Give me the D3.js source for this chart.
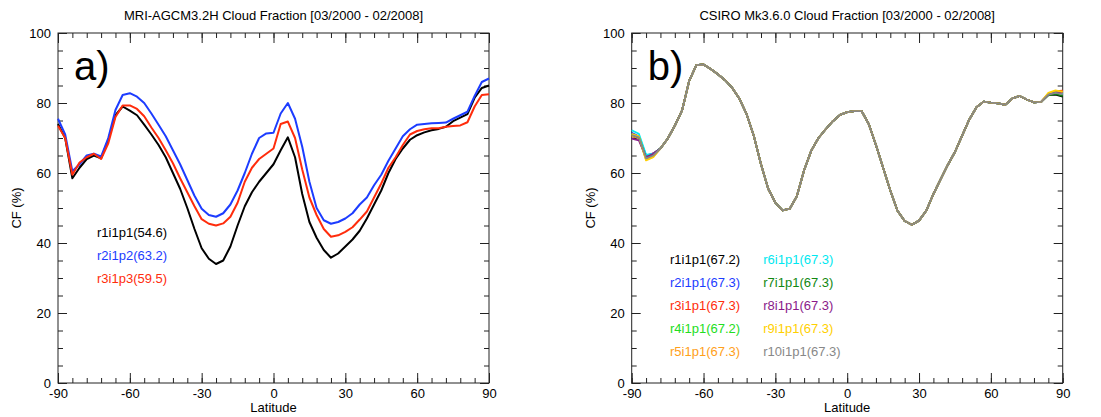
<!DOCTYPE html>
<html>
<head>
<meta charset="utf-8">
<script src="https://cdn.jsdelivr.net/npm/d3@7"></script>
<style>
  body { margin: 0; background: #fff; }
  svg text { font-family: "Liberation Sans", Arial, Helvetica, sans-serif; }
</style>
</head>
<body>
<script>
// latitude grid shared by every series
var latitudes = [-90, -87, -84, -81, -78, -75, -72, -69, -66, -63,
                 -60, -57, -54, -51, -48, -45, -42, -39, -36, -33,
                 -30, -27, -24, -21, -18, -15, -12, -9, -6, -3,
                 0, 3, 6, 9, 12, 15, 18, 21, 24, 27,
                 30, 33, 36, 39, 42, 45, 48, 51, 54, 57,
                 60, 63, 66, 69, 72, 75, 78, 81, 84, 87, 90];

var xTicks = [-90, -60, -30, 0, 30, 60, 90];
var yTicks = [0, 20, 40, 60, 80, 100];

// panel a) MRI-AGCM3.2H
var mriNames = ["r1i1p1", "r2i1p2", "r3i1p3"];
var mriMeans = [54.6, 63.2, 59.5];
var mriR1 = [74, 70, 58.5, 61.5, 64, 65, 64.2, 69.5, 76.5, 79,
             77.8, 76.5, 73.8, 71, 68, 64.5, 60, 55.5, 50, 44,
             38.5, 35.5, 34, 35, 39, 45, 50.5, 54.5, 57.5, 60,
             62.5, 66.5, 70.2, 64.5, 54, 46, 41.5, 38, 35.8, 37,
             39, 41, 43.5, 47, 51, 55, 60, 64, 67, 69.5,
             70.8, 71.6, 72.2, 72.6, 73.2, 74.8, 75.8, 76.8, 81.5, 84.3, 85];
var mriR2 = [75.5, 71, 60.5, 62.5, 65, 65.5, 64.7, 70, 78, 82.3,
             82.8, 81.8, 80, 77, 73.8, 70.5, 66.5, 62.5, 58, 53.5,
             49.8, 48, 47.5, 48.5, 51, 55, 60, 65.5, 70, 71.3,
             71.5, 77, 80, 75.5, 67.5, 57.5, 50, 46.5, 45.5, 46,
             47, 48.5, 51, 53, 56.5, 59.5, 63.5, 67, 70.5, 72.5,
             73.8, 74, 74.2, 74.3, 74.4, 75.5, 76.5, 77.5, 82, 86, 87];
var mriR3 = [73.5, 70, 59.5, 63, 64.5, 65.5, 64, 68.5, 76, 79.3,
             79.3, 78.3, 76.2, 73, 70, 66.5, 62.8, 58.5, 54.5, 50.5,
             46.8, 45.5, 45, 45.6, 47.5, 51.5, 57.5, 61.5, 64, 65.5,
             67, 74, 74.7, 70, 61, 53, 48, 44, 41.8, 42.2,
             43.2, 44.5, 46.7, 49, 53, 57, 61.5, 64.5, 68, 71,
             72, 72.5, 72.8, 72.8, 73.2, 73.4, 73.6, 74.5, 79, 82.3, 82.5];

// panel b) CSIRO Mk3.6.0, ten members
var csiroNames = ["r1i1p1", "r2i1p1", "r3i1p1", "r4i1p1", "r5i1p1",
                  "r6i1p1", "r7i1p1", "r8i1p1", "r9i1p1", "r10i1p1"];
var csiroMeans = [67.2, 67.3, 67.3, 67.2, 67.3, 67.3, 67.3, 67.3, 67.3, 67.3];
// -90..-81, where the members separate
var csiroSouth = [[70.5, 70, 64.3, 65.2],
                  [71.5, 70.5, 65, 65.6],
                  [70.8, 70.2, 64.5, 65.6],
                  [71, 70.3, 64.5, 65.3],
                  [70.5, 70, 63.8, 64.6],
                  [72.2, 71.2, 65.2, 65.5],
                  [71, 70.2, 64.3, 65.2],
                  [69.8, 69.3, 64.5, 65.5],
                  [71.2, 70.5, 63.6, 64.5],
                  [70.8, 70.2, 64.2, 65]];
// -78..81, where the members lie on top of each other
var csiroCore = [67, 69.8, 73.5, 77.8, 86.3, 90.8, 91, 89.7, 88.2, 86.5,
                 84.3, 81.2, 76.8, 70.6, 62.5, 55.5, 51.5, 49.3, 49.8, 53.4,
                 60.8, 66.4, 70, 72.5, 74.8, 76.6, 77.4, 77.7, 77.7, 74,
                 68, 61.5, 55, 49.2, 46.3, 45.2, 46.4, 49.2, 54, 58.2,
                 62.3, 66, 70.7, 75.3, 78.8, 80.4, 80.1, 79.9, 79.5, 81.3,
                 82, 81, 80.2, 80.3];
// 84..90
var csiroNorth = [[82.3, 82.4, 81.8],
                  [82.5, 83, 82.8],
                  [82.6, 83.4, 83.5],
                  [82.4, 83.1, 83],
                  [82.6, 83.2, 83.3],
                  [82.5, 83, 82.6],
                  [82.2, 82.6, 82],
                  [82.4, 83, 83.1],
                  [82.9, 83.6, 83.2],
                  [82.4, 82.9, 82.5]];

var mriColors = ["#000000", "#1c3cff", "#ff2c0c"];
var csiroColors = ["#000000", "#1c3cff", "#ff2c0c", "#22dd22", "#ffa01a",
                   "#00e8f0", "#118811", "#8a1a8a", "#ffd000", "#888888"];

var width = 1101, height = 417;
var plotTop = 33, plotW = 431, plotH = 350;

var svg = d3.select("body").append("svg")
    .attr("width", width)
    .attr("height", height);

function drawPanel(left, title, tag) {
    var g = svg.append("g").attr("transform", "translate(" + left + "," + plotTop + ")");
    var x = d3.scaleLinear().domain([-90, 90]).range([0, plotW]);
    var y = d3.scaleLinear().domain([0, 100]).range([plotH, 0]);
    var plain = function (d) { return String(d); };

    //minor ticks on all four sides
    var xMinor = d3.range(-90, 91, 6), yMinor = d3.range(0, 101, 5);
    g.append("g").attr("transform", "translate(0," + plotH + ")")
        .call(d3.axisBottom(x).tickValues(xMinor).tickSize(-5).tickSizeOuter(0).tickFormat(""));
    g.append("g")
        .call(d3.axisTop(x).tickValues(xMinor).tickSize(-5).tickSizeOuter(0).tickFormat(""));
    g.append("g")
        .call(d3.axisLeft(y).tickValues(yMinor).tickSize(-5).tickSizeOuter(0).tickFormat(""));
    g.append("g").attr("transform", "translate(" + plotW + ",0)")
        .call(d3.axisRight(y).tickValues(yMinor).tickSize(-5).tickSizeOuter(0).tickFormat(""));

    //major ticks
    g.append("g").attr("transform", "translate(0," + plotH + ")")
        .call(d3.axisBottom(x).tickValues(xTicks).tickSize(-10).tickSizeOuter(0).tickPadding(6).tickFormat(plain));
    g.append("g")
        .call(d3.axisTop(x).tickValues(xTicks).tickSize(-10).tickSizeOuter(0).tickFormat(""));
    g.append("g")
        .call(d3.axisLeft(y).tickValues(yTicks).tickSize(-9).tickSizeOuter(0).tickPadding(7).tickFormat(plain));
    g.append("g").attr("transform", "translate(" + plotW + ",0)")
        .call(d3.axisRight(y).tickValues(yTicks).tickSize(-9).tickSizeOuter(0).tickFormat(""));

    g.selectAll(".domain").remove();
    g.selectAll(".tick line").attr("stroke", "#222");
    g.selectAll(".tick text").attr("font-size", 13).attr("fill", "#000")
        .style("font-family", '"Liberation Sans", Arial, sans-serif');

    g.append("rect")
        .attr("width", plotW).attr("height", plotH)
        .attr("fill", "none").attr("stroke", "#222").attr("stroke-width", 1);

    g.append("text")
        .attr("x", plotW / 2).attr("y", 19.5 - plotTop)
        .attr("text-anchor", "middle").attr("font-size", 13)
        .text(title);
    g.append("text")
        .attr("x", plotW / 2).attr("y", plotH + 29)
        .attr("text-anchor", "middle").attr("font-size", 13)
        .text("Latitude");
    g.append("text")
        .attr("transform", "translate(-37," + plotH / 2 + ") rotate(-90)")
        .attr("text-anchor", "middle").attr("font-size", 13)
        .text("CF (%)");
    g.append("text")
        .attr("x", 16).attr("y", 80 - plotTop)
        .attr("font-size", 40)
        .text(tag);

    var line = d3.line()
        .x(function (d, i) { return x(latitudes[i]); })
        .y(function (d) { return y(d); });

    return { g: g, line: line };
}

// panel a
var pa = drawPanel(58, "MRI-AGCM3.2H Cloud Fraction [03/2000 - 02/2008]", "a)");
var mriSeries = [mriR1, mriR2, mriR3];
pa.g.selectAll(".mri")
    .data(mriSeries)
    .enter()
    .append("path")
    .attr("class", "mri")
    .attr("fill", "none")
    .attr("stroke", function (d, i) { return mriColors[i]; })
    .attr("stroke-width", 2)
    .attr("stroke-linejoin", "round")
    .attr("d", pa.line);

pa.g.selectAll(".leg")
    .data(mriNames)
    .enter()
    .append("text")
    .attr("class", "leg")
    .attr("x", 39)
    .attr("y", function (d, i) { return 237 - plotTop + i * 23; })
    .attr("font-size", 13)
    .attr("fill", function (d, i) { return mriColors[i]; })
    .text(function (d, i) { return d + "(" + mriMeans[i].toFixed(1) + ")"; });

// panel b
var pb = drawPanel(631.7, "CSIRO Mk3.6.0 Cloud Fraction [03/2000 - 02/2008]", "b)");
var csiroSeries = csiroNames.map(function (n, i) {
    return csiroSouth[i].concat(csiroCore, csiroNorth[i]);
});
pb.g.selectAll(".csiro")
    .data(csiroSeries)
    .enter()
    .append("path")
    .attr("class", "csiro")
    .attr("fill", "none")
    .attr("stroke", function (d, i) { return csiroColors[i]; })
    .attr("stroke-width", 1.8)
    .attr("stroke-linejoin", "round")
    .attr("d", pb.line);

pb.g.selectAll(".leg")
    .data(csiroNames)
    .enter()
    .append("text")
    .attr("class", "leg")
    .attr("x", function (d, i) { return i < 5 ? 38.3 : 131.6; })
    .attr("y", function (d, i) { return 264 - plotTop + (i % 5) * 23; })
    .attr("font-size", 13)
    .attr("fill", function (d, i) { return csiroColors[i]; })
    .text(function (d, i) { return d + "(" + csiroMeans[i].toFixed(1) + ")"; });
</script>
</body>
</html>
